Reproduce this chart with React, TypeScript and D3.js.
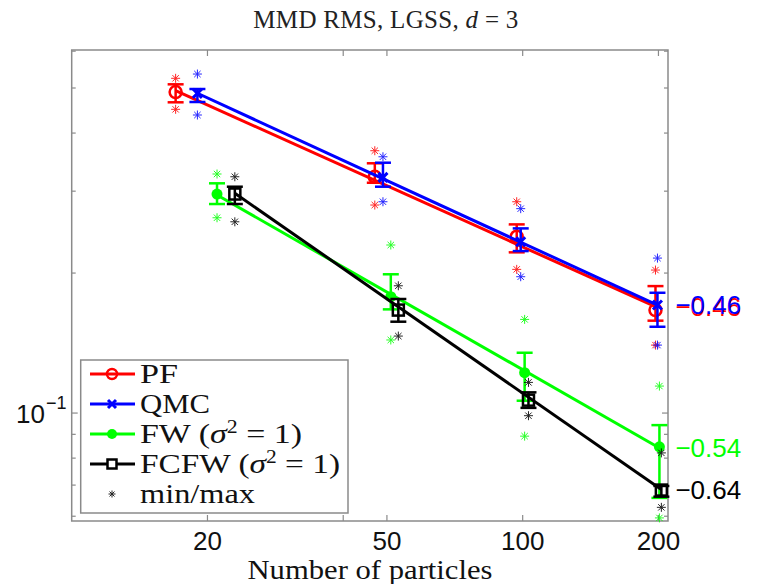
import React from 'react';
import * as d3 from 'd3';

const particleCounts = [20, 50, 100, 200];
const xTicks = [20, 40, 50, 100, 200];
const xTickLabels = ['20', '', '50', '100', '200'];
const yMajorTicks = [0.1];
const yMinorTicks = [0.06, 0.07, 0.08, 0.09, 0.2, 0.3, 0.4, 0.5, 0.6];

const seriesNames = ['PF', 'QMC', 'FW', 'FCFW'];
const seriesColors = ['#ff0000', '#0000ff', '#00ff00', '#000000'];
const xOffsets = [-3, -1, 1, 3];

const pfMean = [0.49, 0.3222, 0.2394, 0.1665];
const pfHi = [0.5092, 0.3444, 0.2545, 0.1875];
const pfLo = [0.4658, 0.3128, 0.2216, 0.158];
const pfMax = [0.5246, 0.3665, 0.2847, 0.203];
const pfMin = [0.4499, 0.2801, 0.2037, 0.14];

const qmcMean = [0.487, 0.3213, 0.2336, 0.1707];
const qmcHi = [0.4975, 0.3454, 0.2495, 0.1814];
const qmcLo = [0.4665, 0.3067, 0.223, 0.1533];
const qmcMax = [0.5358, 0.3557, 0.2751, 0.2154];
const qmcMin = [0.4374, 0.2847, 0.1964, 0.14];

const fwMean = [0.2958, 0.1779, 0.1221, 0.0846];
const fwHi = [0.3119, 0.1988, 0.1348, 0.0942];
const fwLo = [0.2815, 0.1671, 0.1063, 0.0657];
const fwMax = [0.3266, 0.2298, 0.159, 0.1143];
const fwMin = [0.263, 0.1436, 0.0892, 0.0595];

const fcfwMean = [0.2958, 0.1665, 0.1066, 0.0683];
const fcfwHi = [0.3067, 0.1759, 0.1108, 0.0697];
const fcfwLo = [0.2815, 0.1572, 0.1026, 0.0661];
const fcfwMax = [0.3222, 0.1878, 0.1164, 0.0821];
const fcfwMin = [0.2578, 0.1464, 0.0987, 0.0627];

const W = 759;
const H = 584;
const serif = '"Liberation Serif", "Times New Roman", serif';
const sans = '"Liberation Sans", Arial, sans-serif';
const axisColor = '#8a8a8a';

function fitLogLog(xs: number[], ys: number[]) {
  const lx = xs.map(Math.log10);
  const ly = ys.map(Math.log10);
  const mx = d3.mean(lx)!;
  const my = d3.mean(ly)!;
  let sxy = 0;
  let sxx = 0;
  lx.forEach((v, i) => {
    sxy += (v - mx) * (ly[i] - my);
    sxx += (v - mx) * (v - mx);
  });
  const slope = sxy / sxx;
  const intercept = my - slope * mx;
  return { slope, intercept };
}

function Star({ cx, cy, r, color, sw = 1 }: { cx: number; cy: number; r: number; color: string; sw?: number }) {
  const d = r * Math.SQRT1_2;
  return (
    <g stroke={color} strokeWidth={sw} opacity={0.85}>
      <line x1={cx - r} y1={cy} x2={cx + r} y2={cy} />
      <line x1={cx} y1={cy - r} x2={cx} y2={cy + r} />
      <line x1={cx - d} y1={cy - d} x2={cx + d} y2={cy + d} />
      <line x1={cx - d} y1={cy + d} x2={cx + d} y2={cy - d} />
    </g>
  );
}

function Marker({ kind, cx, cy, color }: { kind: number; cx: number; cy: number; color: string }) {
  if (kind === 0) return <circle cx={cx} cy={cy} r={6} fill="none" stroke={color} strokeWidth={2.5} />;
  if (kind === 1)
    return (
      <path
        d={`M${cx - 4.5},${cy - 4.5}L${cx + 4.5},${cy + 4.5}M${cx - 4.5},${cy + 4.5}L${cx + 4.5},${cy - 4.5}`}
        stroke={color}
        strokeWidth={3}
      />
    );
  if (kind === 2) return <circle cx={cx} cy={cy} r={5.5} fill={color} />;
  return <rect x={cx - 5.5} y={cy - 5.5} width={11} height={11} fill="none" stroke={color} strokeWidth={2.5} />;
}

export default function App() {
  const x = d3.scaleLog().domain([10, 210]).range([71.7, 668]);
  const y = d3.scaleLog().domain([0.0586, 0.6035]).range([521, 50]);
  const [x0, x1] = x.range();
  const [yb, yt] = y.range();

  const means = [pfMean, qmcMean, fwMean, fcfwMean];
  const his = [pfHi, qmcHi, fwHi, fcfwHi];
  const los = [pfLo, qmcLo, fwLo, fcfwLo];
  const maxs = [pfMax, qmcMax, fwMax, fcfwMax];
  const mins = [pfMin, qmcMin, fwMin, fcfwMin];

  const line = d3
    .line<[number, number]>()
    .x((d) => d[0])
    .y((d) => d[1]);

  const capHalf = 8;
  const legendY = [374, 404, 434, 464, 494];

  return (
    <svg width={W} height={H} style={{ position: 'absolute', left: 0, top: 0, background: '#fff' }}>
      <rect x={0} y={0} width={W} height={H} fill="#fff" />
      {/* title */}
      <text x={386} y={28} fontFamily={serif} fontSize={25} letterSpacing={0.3} textAnchor="middle" fill="#222">
        MMD RMS, LGSS, <tspan fontStyle="italic">d</tspan> = 3
      </text>

      {/* axes box */}
      <rect x={x0} y={yt} width={x1 - x0} height={yb - yt} fill="none" stroke={axisColor} strokeWidth={1.5} />
      {xTicks.map((t, i) => (
        <g key={'xt' + i}>
          <line x1={x(t)} x2={x(t)} y1={yb} y2={yb - 6} stroke={axisColor} strokeWidth={1.2} />
          <line x1={x(t)} x2={x(t)} y1={yt} y2={yt + 6} stroke={axisColor} strokeWidth={1.2} />
          {xTickLabels[i] && (
            <text x={x(t)} y={550} fontFamily={sans} fontSize={26} textAnchor="middle" fill="#111">
              {xTickLabels[i]}
            </text>
          )}
        </g>
      ))}
      {yMajorTicks.map((t, i) => (
        <g key={'yM' + i}>
          <line x1={x0} x2={x0 + 6} y1={y(t)} y2={y(t)} stroke={axisColor} strokeWidth={1.2} />
          <line x1={x1} x2={x1 - 6} y1={y(t)} y2={y(t)} stroke={axisColor} strokeWidth={1.2} />
          <text x={45} y={y(t) + 10} fontFamily={sans} fontSize={26} textAnchor="end" fill="#111">
            10
          </text>
          <text x={46} y={y(t) - 4} fontFamily={sans} fontSize={18} fill="#111">
            −1
          </text>
        </g>
      ))}
      {yMinorTicks.map((t, i) => (
        <g key={'ym' + i}>
          <line x1={x0} x2={x0 + 4} y1={y(t)} y2={y(t)} stroke={axisColor} strokeWidth={1.2} />
          <line x1={x1} x2={x1 - 4} y1={y(t)} y2={y(t)} stroke={axisColor} strokeWidth={1.2} />
        </g>
      ))}

      {/* series */}
      {seriesNames.map((name, s) => {
        const color = seriesColors[s];
        const xs = particleCounts.map((n) => x(n + xOffsets[s]));
        const fit = fitLogLog(particleCounts, means[s]);
        const fitY = (n: number) => y(Math.pow(10, fit.intercept + fit.slope * Math.log10(n)));
        const pts: [number, number][] = [
          [xs[0], fitY(particleCounts[0])],
          [xs[xs.length - 1], fitY(particleCounts[particleCounts.length - 1])],
        ];
        const label = fit.slope.toFixed(2).replace('-', '−');
        return (
          <g key={name}>
            {particleCounts.map((n, i) => (
              <g key={i}>
                <Star cx={xs[i]} cy={y(maxs[s][i])} r={4.5} color={color} />
                <Star cx={xs[i]} cy={y(mins[s][i])} r={4.5} color={color} />
              </g>
            ))}
            <path d={line(pts)!} stroke={color} strokeWidth={3} fill="none" />
            {particleCounts.map((n, i) => (
              <g key={'e' + i} stroke={color} strokeWidth={2.5}>
                <line x1={xs[i]} x2={xs[i]} y1={y(his[s][i])} y2={y(los[s][i])} />
                <line x1={xs[i] - capHalf} x2={xs[i] + capHalf} y1={y(his[s][i])} y2={y(his[s][i])} />
                <line x1={xs[i] - capHalf} x2={xs[i] + capHalf} y1={y(los[s][i])} y2={y(los[s][i])} />
              </g>
            ))}
            {particleCounts.map((n, i) => (
              <Marker key={'m' + i} kind={s} cx={xs[i]} cy={y(means[s][i])} color={color} />
            ))}
            <text x={x(200) + 17} y={fitY(200) + 9} fontFamily={sans} fontSize={26} fill={color}>
              {label}
            </text>
          </g>
        );
      })}

      {/* legend */}
      <rect x={80.7} y={360} width={267.3} height={153} fill="#fff" stroke={axisColor} strokeWidth={1.5} />
      {seriesNames.map((name, s) => (
        <g key={'lg' + s}>
          <line x1={90} x2={135} y1={legendY[s]} y2={legendY[s]} stroke={seriesColors[s]} strokeWidth={3} />
          {s === 0 ? (
            <circle cx={112} cy={legendY[s]} r={5} fill="none" stroke={seriesColors[s]} strokeWidth={2.5} />
          ) : s === 1 ? (
            <path
              d={`M108,${legendY[s] - 4}L116,${legendY[s] + 4}M108,${legendY[s] + 4}L116,${legendY[s] - 4}`}
              stroke={seriesColors[s]}
              strokeWidth={3}
            />
          ) : s === 2 ? (
            <circle cx={112} cy={legendY[s]} r={5} fill={seriesColors[s]} />
          ) : (
            <rect x={107.5} y={legendY[s] - 4.5} width={9} height={9} fill="#fff" stroke={seriesColors[s]} strokeWidth={2.5} />
          )}
        </g>
      ))}
      <Star cx={112} cy={legendY[4]} r={3.5} color="#000" />
      <g fontFamily={serif} fontSize={28} fill="#111">
        <text x={140} y={legendY[0] + 9} textLength={38} lengthAdjust="spacingAndGlyphs">PF</text>
        <text x={140} y={legendY[1] + 9} textLength={70} lengthAdjust="spacingAndGlyphs">QMC</text>
        <text x={140} y={legendY[2] + 9} textLength={162} lengthAdjust="spacingAndGlyphs">
          FW (<tspan fontStyle="italic">σ</tspan>
          <tspan dy={-10} fontSize={18}>2</tspan>
          <tspan dy={10}> = 1)</tspan>
        </text>
        <text x={140} y={legendY[3] + 9} textLength={200} lengthAdjust="spacingAndGlyphs">
          FCFW (<tspan fontStyle="italic">σ</tspan>
          <tspan dy={-10} fontSize={18}>2</tspan>
          <tspan dy={10}> = 1)</tspan>
        </text>
        <text x={140} y={legendY[4] + 9} textLength={115} lengthAdjust="spacingAndGlyphs">min/max</text>
      </g>

      {/* x label */}
      <text x={370} y={579} fontFamily={serif} fontSize={28} textAnchor="middle" fill="#111" textLength={245} lengthAdjust="spacingAndGlyphs">
        Number of particles
      </text>
    </svg>
  );
}
